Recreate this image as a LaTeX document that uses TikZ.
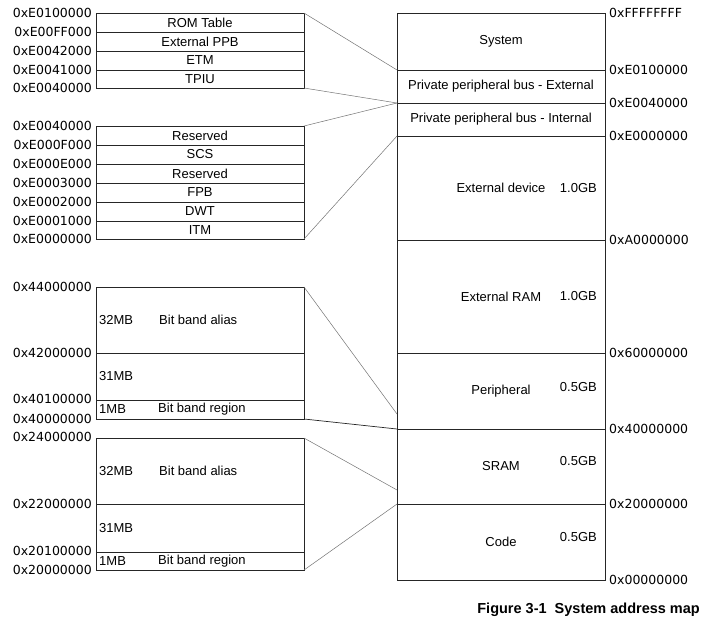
\documentclass[tikz,border=0pt]{standalone}
\usepackage{fontspec}
\setmainfont{Liberation Sans}
\newfontfamily\hexfont{DejaVu Sans}
\usetikzlibrary{calc}
\tikzset{
  cell/.style={draw=black!85, line width=0.9pt, minimum width=208pt, inner sep=0pt, outer sep=0pt,
    font=\fontsize{13}{15}\selectfont, anchor=north west},
  hexl/.style={font=\hexfont\fontsize{12.5}{14}\selectfont, inner sep=0pt, anchor=east},
  hexr/.style={font=\hexfont\fontsize{12.5}{14}\selectfont, inner sep=0pt, anchor=west},
  txt/.style={font=\fontsize{13}{15}\selectfont, inner sep=0pt},
  conn/.style={draw=black!55, line width=0.5pt},
  connd/.style={draw=black!85, line width=0.7pt},
}
\begin{document}
\begin{tikzpicture}[x=1pt,y=-1pt]
\useasboundingbox (0,0) rectangle (706,622);
% top-left group: PPB external
\node[cell, minimum height=19pt] (rom) at (96,13) {ROM Table};
\node[cell, minimum height=19pt] (extppb) at (96,32) {External PPB};
\node[cell, minimum height=19pt] (etm) at (96,51) {ETM};
\node[cell, minimum height=18pt] (tpiu) at (96,70) {TPIU};
% PPB internal group
\node[cell, minimum height=19pt] (res1) at (96,126) {Reserved};
\node[cell, minimum height=19pt] (scs) at (96,145) {SCS};
\node[cell, minimum height=19pt] (res2) at (96,164) {Reserved};
\node[cell, minimum height=19pt] (fpb) at (96,183) {FPB};
\node[cell, minimum height=19pt] (dwt) at (96,202) {DWT};
\node[cell, minimum height=18pt] (itm) at (96,221) {ITM};
% bit band peripheral
\node[cell, minimum height=66pt] (bbpa) at (96,287) {};
\node[cell, minimum height=47pt] (bbpb) at (96,353) {};
\node[cell, minimum height=19pt] (bbpc) at (96,400) {};
% bit band SRAM
\node[cell, minimum height=66pt] (bbsa) at (96,438) {};
\node[cell, minimum height=48pt] (bbsb) at (96,504) {};
\node[cell, minimum height=18pt] (bbsc) at (96,552) {};
% bit band texts
\node[txt, anchor=west] (t1) at ($(bbpa.west)+(3,0)$) {32MB};
\node[txt, anchor=west] (t2) at ($(bbpa.west)+(63,0)$) {Bit band alias};
\node[txt, anchor=west] (t3) at ($(bbpb.west)+(3,0)$) {31MB};
\node[txt, anchor=west] (t4) at ($(bbpc.west)+(3,0)$) {1MB};
\node[txt, anchor=west] (t5) at ($(bbpc.west)+(62,0)$) {Bit band region};
\node[txt, anchor=west] (t6) at ($(bbsa.west)+(3,0)$) {32MB};
\node[txt, anchor=west] (t7) at ($(bbsa.west)+(63,0)$) {Bit band alias};
\node[txt, anchor=west] (t8) at ($(bbsb.west)+(3,0)$) {31MB};
\node[txt, anchor=west] (t9) at ($(bbsc.west)+(3,0)$) {1MB};
\node[txt, anchor=west] (t10) at ($(bbsc.west)+(62,0)$) {Bit band region};
% main map
\node[cell, minimum height=57pt] (sys) at (397,13) {System};
\node[cell, minimum height=33pt] (ppbe) at (397,70) {Private peripheral bus - External};
\node[cell, minimum height=33pt] (ppbi) at (397,103) {Private peripheral bus - Internal};
\node[cell, minimum height=104pt] (extdev) at (397,136) {External device};
\node[cell, minimum height=113pt] (extram) at (397,240) {External RAM};
\node[cell, minimum height=76pt] (periph) at (397,353) {Peripheral};
\node[cell, minimum height=75pt] (sram) at (397,429) {SRAM};
\node[cell, minimum height=76pt] (code) at (397,504) {Code};
% sizes
\node[txt, anchor=east] (s1) at (597,188) {1.0GB};
\node[txt, anchor=east] (s2) at (597,296) {1.0GB};
\node[txt, anchor=east] (s3) at (597,387) {0.5GB};
\node[txt, anchor=east] (s4) at (597,461) {0.5GB};
\node[txt, anchor=east] (s5) at (597,537) {0.5GB};
% right addresses
\node[hexr] (r1) at (609,13) {0xFFFFFFFF};
\node[hexr] (r2) at (609,70) {0xE0100000};
\node[hexr] (r3) at (609,103) {0xE0040000};
\node[hexr] (r4) at (609,136) {0xE0000000};
\node[hexr] (r5) at (609,240) {0xA0000000};
\node[hexr] (r6) at (609,353) {0x60000000};
\node[hexr] (r7) at (609,429) {0x40000000};
\node[hexr] (r8) at (609,504) {0x20000000};
\node[hexr] (r9) at (609,580) {0x00000000};
% left addresses
\node[hexl] (l1) at (92,13) {0xE0100000};
\node[hexl] (l2) at (92,32) {0xE00FF000};
\node[hexl] (l3) at (92,51) {0xE0042000};
\node[hexl] (l4) at (92,70) {0xE0041000};
\node[hexl] (l5) at (92,88) {0xE0040000};
\node[hexl] (l6) at (92,126) {0xE0040000};
\node[hexl] (l7) at (92,145) {0xE000F000};
\node[hexl] (l8) at (92,164) {0xE000E000};
\node[hexl] (l9) at (92,183) {0xE0003000};
\node[hexl] (l10) at (92,202) {0xE0002000};
\node[hexl] (l11) at (92,221) {0xE0001000};
\node[hexl] (l12) at (92,239) {0xE0000000};
\node[hexl] (l13) at (92,287) {0x44000000};
\node[hexl] (l14) at (92,353) {0x42000000};
\node[hexl] (l15) at (92,399) {0x40100000};
\node[hexl] (l16) at (92,419) {0x40000000};
\node[hexl] (l17) at (92,437) {0x24000000};
\node[hexl] (l18) at (92,504) {0x22000000};
\node[hexl] (l19) at (92,551) {0x20100000};
\node[hexl] (l20) at (92,570) {0x20000000};
% connectors
\coordinate (pA) at ($(periph.south west)+(0,-15)$);
\coordinate (sA) at ($(sram.south west)+(0,-14)$);
\draw[conn] (rom.north east) -- (ppbe.north west);
\draw[conn] (tpiu.south east) -- (ppbi.north west);
\draw[conn] (res1.north east) -- (ppbi.north west);
\draw[conn] (itm.south east) -- (ppbi.south west);
\draw[conn] (bbpa.north east) -- (pA);
\draw[connd] (bbpc.south east) -- (periph.south west);
\draw[conn] (bbsa.north east) -- (sA);
\draw[conn] (bbsc.south east) -- (code.north west);
% caption
\node[font=\bfseries\fontsize{14.5}{17}\selectfont, anchor=east, inner sep=0pt] (cap) at (700,610) {Figure 3-1\ \ System address map};
\end{tikzpicture}
\end{document}
